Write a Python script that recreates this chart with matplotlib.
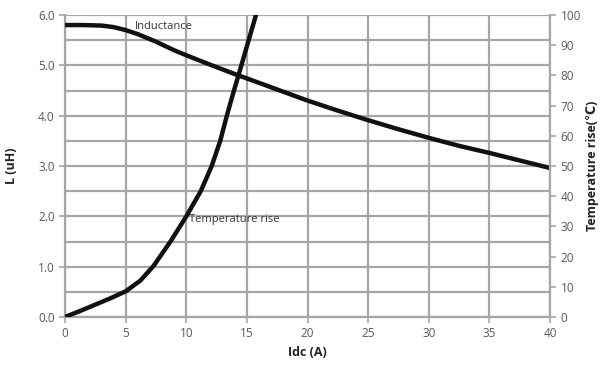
import matplotlib
matplotlib.use("Agg")
import matplotlib.pyplot as plt
from matplotlib.ticker import MultipleLocator

# Data
idc_L = [0, 1.5, 3, 4, 5, 6, 7.5, 9, 10, 12, 14.4, 15, 17.5, 20, 22.5, 25, 27.5, 30, 32.5, 35, 37.5, 40]
inductance = [5.80, 5.80, 5.79, 5.76, 5.70, 5.62, 5.47, 5.30, 5.20, 5.01, 4.79, 4.74, 4.52, 4.30, 4.10,
              3.91, 3.73, 3.56, 3.40, 3.26, 3.11, 2.96]

idc_T = [0, 1.25, 2.5, 3.75, 5, 6.2, 7.3, 8.7, 10, 11.2, 12.1, 12.8, 13.35, 13.9, 14.45, 15.1, 15.75]
temp_rise = [0, 2, 4.1, 6.2, 8.5, 12, 16.9, 25, 33.3, 41.7, 50, 58.3, 66.7, 74.5, 82, 91, 100]

x_ticks = [0, 5, 10, 15, 20, 25, 30, 35, 40]
L_ticks = [0.0, 1.0, 2.0, 3.0, 4.0, 5.0, 6.0]
T_ticks = [0, 10, 20, 30, 40, 50, 60, 70, 80, 90, 100]

plt.rcParams['font.family'] = ['Open Sans', 'DejaVu Sans']
grid_c = '#a6a6a6'
tick_c = '#595959'

fig = plt.figure(figsize=(6.06, 3.66), dpi=100)
ax = fig.add_axes([65/606, 1-317/366, 485/606, 302/366])
ax2 = ax.twinx()

ax.set_xlim(0, 40)
ax.set_ylim(0, 6)
ax2.set_ylim(0, 100)

ax.set_xticks(x_ticks)
ax.set_xticklabels([str(v) for v in x_ticks])
ax.set_yticks(L_ticks)
ax.set_yticklabels([f"{v:.1f}" for v in L_ticks])
ax.yaxis.set_minor_locator(MultipleLocator(0.5))
ax2.set_yticks(T_ticks)
ax2.set_yticklabels([str(v) for v in T_ticks])

ax.grid(True, which='both', axis='y', color=grid_c, lw=1.6)
ax.grid(True, which='major', axis='x', color=grid_c, lw=1.6)
ax.set_axisbelow(True)

for a in (ax, ax2):
    for s in a.spines.values():
        s.set_visible(False)
for a, side in ((ax, 'left'), (ax, 'bottom'), (ax2, 'right')):
    a.spines[side].set_visible(True)
    a.spines[side].set_color(grid_c)
    a.spines[side].set_linewidth(1.6)

ax.tick_params(axis='both', which='major', colors=grid_c, labelcolor=tick_c, labelsize=8.5, length=4, width=1.2)
ax.tick_params(axis='y', which='minor', length=0)
ax2.tick_params(axis='y', colors=grid_c, labelcolor=tick_c, labelsize=8.5, length=4, width=1.2)

ax.plot(idc_L, inductance, color='#111111', lw=3.2, solid_capstyle='round', solid_joinstyle='round', zorder=5)
ax2.plot(idc_T, temp_rise, color='#111111', lw=3.2, solid_capstyle='round', solid_joinstyle='round', zorder=5)

ax.text(5.8, 5.78, 'Inductance', fontsize=8, color='#333333', va='center', ha='left', zorder=6)
ax.text(10.2, 1.93, 'Temperature rise', fontsize=8, color='#333333', va='center', ha='left', zorder=6)

ax.set_xlabel('Idc (A)', fontsize=9, fontweight='bold', color='#222222', labelpad=4)
ax.set_ylabel('L (uH)', fontsize=9, fontweight='bold', color='#222222')
ax.yaxis.set_label_coords(-0.097, 0.5)
ax2.set_ylabel('Temperature rise(℃)', fontsize=9, fontweight='bold', color='#222222',
               family=['Open Sans', 'DejaVu Sans'])
ax2.yaxis.set_label_coords(1.075, 0.5)

fig.savefig('out.png', dpi=100)
